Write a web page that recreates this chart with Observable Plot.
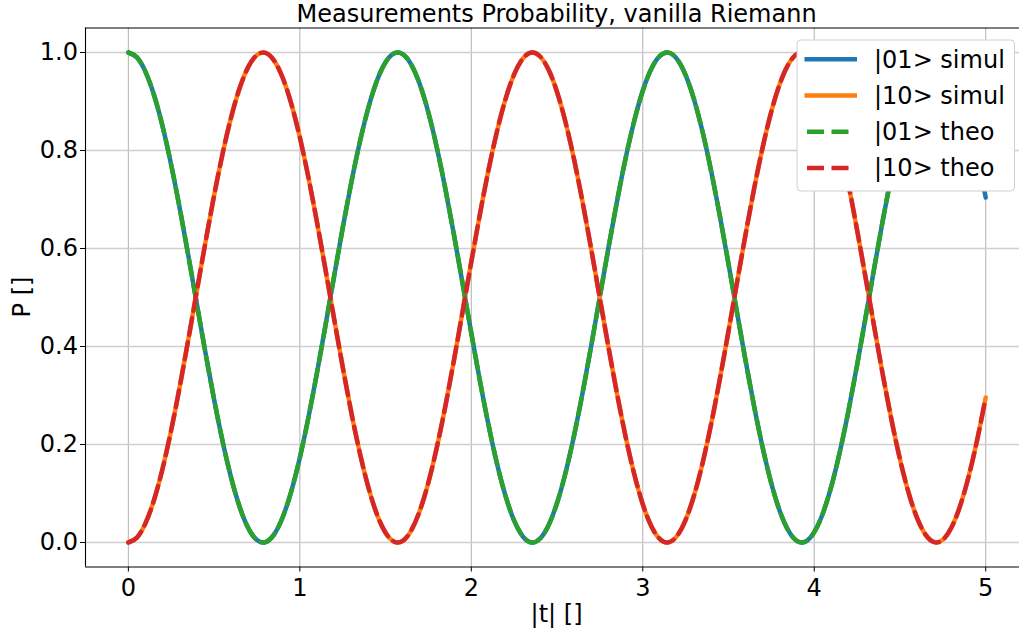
<!DOCTYPE html>
<html><head><meta charset="utf-8">
<script src="https://cdn.jsdelivr.net/npm/d3@7"></script>
<script src="https://cdn.jsdelivr.net/npm/@observablehq/plot@0.6"></script>
<style>
html,body{margin:0;padding:0;background:#fff;overflow:hidden}
svg text{font-family:'DejaVu Sans',sans-serif;font-size:24px}
</style>
</head><body><div id="chart"></div>
<script>
// ---- data ----
const T = [0.00,0.05,0.10,0.15,0.20,0.25,0.30,0.35,0.40,0.45,0.50,0.55,0.60,0.65,0.70,0.75,0.80,0.85,0.90,0.95,
1.00,1.05,1.10,1.15,1.20,1.25,1.30,1.35,1.40,1.45,1.50,1.55,1.60,1.65,1.70,1.75,1.80,1.85,1.90,1.95,
2.00,2.05,2.10,2.15,2.20,2.25,2.30,2.35,2.40,2.45,2.50,2.55,2.60,2.65,2.70,2.75,2.80,2.85,2.90,2.95,
3.00,3.05,3.10,3.15,3.20,3.25,3.30,3.35,3.40,3.45,3.50,3.55,3.60,3.65,3.70,3.75,3.80,3.85,3.90,3.95,
4.00,4.05,4.10,4.15,4.20,4.25,4.30,4.35,4.40,4.45,4.50,4.55,4.60,4.65,4.70,4.75,4.80,4.85,4.90,4.95,5.00];
const P01_SIMUL = [1.000,.9900,.9605,.9127,.8484,.7702,.6812,.5850,.4854,.3864,.2919,.2058,.1313,.0716,.0289,.0050,.0009,.0166,.0516,.1045,
.1732,.2549,.3463,.4439,.5438,.6418,.7343,.8173,.8878,.9428,.9801,.9983,.9966,.9751,.9347,.8770,.8042,.7193,.6256,.5270,
.4273,.3304,.2404,.1606,.0945,.0444,.0126,.0002,.0077,.0348,.0805,.1429,.2195,.3073,.4028,.5022,.6015,.6967,.7841,.8602,
.9219,.9668,.9931,.9997,.9864,.9537,.9029,.8361,.7559,.6654,.5684,.4686,.3701,.2768,.1923,.1202,.0631,.0235,.0029,.0021,
.0212,.0593,.1150,.1861,.2697,.3624,.4607,.5605,.6579,.7490,.8302,.8982,.9503,.9845,.9994,.9944,.9696,.9261,.8657,.7907,.7040];
const P10_SIMUL = [.0000,.0100,.0395,.0873,.1516,.2298,.3188,.4150,.5146,.6136,.7081,.7942,.8687,.9284,.9711,.9950,.9991,.9834,.9484,.8955,
.8268,.7451,.6537,.5561,.4562,.3582,.2657,.1827,.1122,.0572,.0199,.0017,.0034,.0249,.0653,.1230,.1958,.2807,.3744,.4730,
.5727,.6696,.7596,.8394,.9055,.9556,.9874,.9998,.9923,.9652,.9195,.8571,.7805,.6927,.5972,.4978,.3985,.3033,.2159,.1398,
.0781,.0332,.0069,.0003,.0136,.0463,.0971,.1639,.2441,.3346,.4316,.5314,.6299,.7232,.8077,.8798,.9369,.9765,.9971,.9979,
.9788,.9407,.8850,.8139,.7303,.6376,.5393,.4395,.3421,.2510,.1698,.1018,.0497,.0155,.0006,.0056,.0304,.0739,.1343,.2093,.2960];
const P01_THEO = P01_SIMUL;
const P10_THEO = P10_SIMUL;
const SERIES = ["|01> simul","|10> simul","|01> theo","|10> theo"];
const X_TICKS = [0,1,2,3,4,5];
const Y_TICKS = [0.0,0.2,0.4,0.6,0.8,1.0];
const TITLE = "Measurements Probability, vanilla Riemann";
const X_LABEL = "|t| []";
const Y_LABEL = "P []";

// ---- styles ----
const COLORS = ["#1f77b4","#ff7f0e","#2ca02c","#d62728"];
const DASH = [null,null,"17,7.5","17,7.5"];
const LW = 4.5;

const rows = T.map((t,i)=>({t, a:P01_SIMUL[i], b:P10_SIMUL[i], c:P01_THEO[i], d:P10_THEO[i]}));
const keys = ["a","b","c","d"];

const X_DOMAIN = [-0.25, 5.197];
const Y_DOMAIN = [-0.05, 1.05];

const chart = Plot.plot({
  width: 1019, height: 634,
  marginLeft: 85, marginRight: 0, marginTop: 27.5, marginBottom: 67.5,
  style: {fontFamily: "'DejaVu Sans', sans-serif", fontSize: "24px", background: "#fff", color: "#000"},
  x: {domain: X_DOMAIN, ticks: X_TICKS, tickFormat: d => String(d), tickSize: 5, tickPadding: 7, label: null},
  y: {domain: Y_DOMAIN, ticks: Y_TICKS, tickFormat: d => d.toFixed(1), tickSize: 5, tickPadding: 2.5, label: null},
  marks: [
    Plot.ruleX(X_TICKS, {stroke: "#b8b8b8", strokeWidth: 1.1}),
    Plot.ruleY(Y_TICKS, {stroke: "#cfcfcf", strokeWidth: 1.3}),
    ...keys.map((k,i) => Plot.line(rows, {x: "t", y: k, stroke: COLORS[i], strokeWidth: LW,
      strokeDasharray: DASH[i] || undefined, curve: "natural"})),
    Plot.ruleX([X_DOMAIN[0]], {stroke: "#000", strokeWidth: 1.1}),
    Plot.ruleY(Y_DOMAIN, {stroke: "#000", strokeWidth: 1.1})
  ]
});
document.getElementById("chart").appendChild(chart);

const svg = d3.select(chart);
const xs = chart.scale("x"), ys = chart.scale("y");
const cx = xs.apply((0 + 5) / 2);
const cy = (ys.apply(Y_DOMAIN[0]) + ys.apply(Y_DOMAIN[1])) / 2;

svg.append("text").attr("x", cx).attr("y", 22).attr("text-anchor", "middle").text(TITLE);
svg.append("text").attr("x", cx).attr("y", 622).attr("text-anchor", "middle").text(X_LABEL);
svg.append("text").attr("transform", `translate(30,${cy}) rotate(-90)`).attr("text-anchor", "middle").text(Y_LABEL);

// legend
const lg = svg.append("g");
lg.append("rect").attr("x", 797).attr("y", 40).attr("width", 217.5).attr("height", 151).attr("rx", 4)
  .attr("fill", "#fff").attr("stroke", "#d0d0d0").attr("stroke-width", 1);
SERIES.forEach((name, i) => {
  const yy = 59.3 + i * 36.2;
  lg.append("line").attr("x1", DASH[i] ? 807 : 804.5).attr("x2", DASH[i] ? 851 : 857).attr("y1", yy).attr("y2", yy)
    .attr("stroke", COLORS[i]).attr("stroke-width", LW).attr("stroke-dasharray", DASH[i] || null);
  lg.append("text").attr("x", 874).attr("y", yy + 8.5).attr("text-anchor", "start").text(name);
});
</script>
</body></html>
